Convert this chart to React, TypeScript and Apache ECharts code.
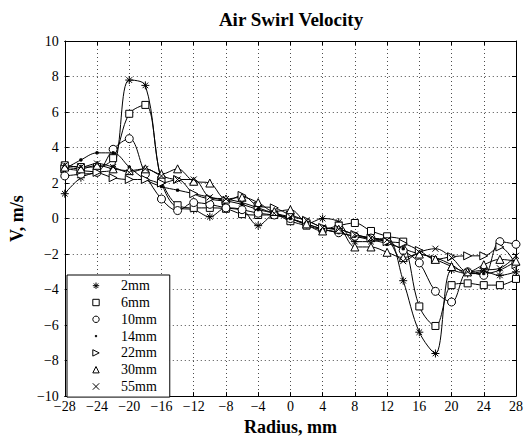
import React, { useEffect, useRef } from "react";
import * as echarts from "echarts";

const radius = [-28, -26, -24, -22, -20, -18, -16, -14, -12, -10, -8, -6, -4, -2, 0, 2, 4, 6, 8, 10, 12, 14, 16, 18, 20, 22, 24, 26, 28];

const v2mm = [1.4, 2.3, 2.6, 2.8, 7.8, 7.5, 2.1, 0.6, 0.5, 0.1, 0.6, 0.5, -0.4, 0.2, 0.0, -0.3, 0.0, -0.2, -1.3, -1.3, -1.1, -3.5, -6.4, -7.6, -2.9, -3.1, -3.0, -3.2, -3.0];
const v6mm = [3.0, 2.9, 2.9, 3.4, 5.9, 6.4, 2.2, 0.75, 0.6, 0.6, 0.55, 0.25, 0.2, 0.2, -0.15, -0.4, -0.6, -0.4, -0.25, -0.7, -1.0, -1.3, -4.95, -6.05, -3.75, -3.65, -3.75, -3.75, -3.4];
const v10mm = [2.4, 2.5, 2.6, 3.9, 4.5, 2.5, 1.1, 0.45, 0.9, 0.8, 0.6, 0.5, 0.3, 0.2, 0.0, -0.3, -0.6, -0.8, -1.0, -1.1, -1.3, -1.8, -2.5, -4.1, -4.7, -3.0, -3.2, -1.3, -1.45];
const v14mm = [2.8, 3.3, 3.7, 3.7, 2.9, 2.2, 1.8, 1.6, 1.4, 1.2, 1.0, 0.8, 0.5, 0.3, 0.0, -0.3, -0.6, -0.8, -1.0, -1.2, -1.4, -1.7, -2.0, -2.2, -2.6, -3.1, -3.1, -2.9, -2.4];
const v22mm = [2.8, 2.7, 2.6, 2.3, 2.2, 2.2, 2.0, 2.2, 1.4, 1.1, 1.0, 1.3, 0.7, 0.6, 0.2, -0.1, -0.5, -0.6, -0.9, -1.1, -1.3, -1.4, -1.8, -2.3, -2.15, -2.1, -2.1, -1.6, -2.6];
const v30mm = [2.9, 2.8, 3.0, 2.8, 2.7, 2.8, 2.5, 2.8, 2.1, 2.0, 1.1, 1.2, 0.9, 0.4, 0.5, -0.3, -0.7, -0.6, -1.6, -1.6, -1.9, -2.2, -2.0, -2.3, -2.7, -3.0, -2.6, -2.3, -2.4];
const v55mm = [3.0, 2.9, 3.1, 2.9, 2.6, 2.8, 2.4, 2.2, 2.2, 1.2, 1.1, 0.9, 0.6, 0.3, 0.1, -0.1, -0.5, -0.6, -0.9, -1.1, -1.2, -2.4, -1.9, -1.7, -2.2, -3.0, -2.9, -2.8, -2.1];

const seriesNames = ["2mm", "6mm", "10mm", "14mm", "22mm", "30mm", "55mm"];
const seriesValues = [v2mm, v6mm, v10mm, v14mm, v22mm, v30mm, v55mm];

const ASTERISK = "path://M5,0L5,10M0,5L10,5M1.5,1.5L8.5,8.5M1.5,8.5L8.5,1.5";
const CROSS = "path://M0,0L10,10M0,10L10,0";
const DOT = "path://M0,0M10,10M4,4L6,4L6,6L4,6Z";

const markerStyles = [
  { symbol: ASTERISK, size: 8, rotate: 0, fill: "#000" },
  { symbol: "rect", size: 7, rotate: 0, fill: "#fff" },
  { symbol: "circle", size: 8, rotate: 0, fill: "#fff" },
  { symbol: DOT, size: 11, rotate: 0, fill: "#000" },
  { symbol: "triangle", size: 8, rotate: -90, fill: "#fff" },
  { symbol: "triangle", size: 8, rotate: 0, fill: "#fff" },
  { symbol: CROSS, size: 6, rotate: 0, fill: "#000" },
];

const FONT = '"Liberation Serif", "Times New Roman", serif';
const fmt = (v: number) => String(v).replace("-", "\u2212");

export default function App() {
  const ref = useRef<HTMLDivElement>(null);
  useEffect(() => {
    const chart = echarts.init(ref.current!, null, { renderer: "svg" });
    const tickCommon = { show: true, inside: true, length: 4, lineStyle: { color: "#000", width: 1 } };
    const option: any = {
      animation: false,
      backgroundColor: "#fff",
      title: {
        text: "Air Swirl Velocity",
        left: 291,
        textAlign: "center",
        top: 10,
        padding: 0,
        textStyle: { fontFamily: FONT, fontSize: 19, fontWeight: "bold", color: "#000" },
      },
      grid: { left: 61, right: 5, top: 41, bottom: 38, containLabel: false },
      legend: {
        orient: "vertical",
        left: 67,
        top: 275,
        padding: [3.7, 13, 3.6, 9],
        itemGap: 2.8,
        itemWidth: 40,
        itemHeight: 8,
        backgroundColor: "#fff",
        borderColor: "#000",
        borderWidth: 1,
        borderRadius: 0,
        data: seriesNames,
        itemStyle: { borderWidth: 1 },
        lineStyle: { width: 0, opacity: 0 },
        textStyle: { fontFamily: FONT, fontSize: 14, color: "#000" },
      },
      xAxis: [
        {
          type: "value",
          min: -28,
          max: 28,
          interval: 4,
          axisLine: { onZero: false, lineStyle: { color: "#000", width: 1 } },
          axisTick: tickCommon,
          axisLabel: { formatter: fmt, color: "#000", fontFamily: FONT, fontSize: 14, margin: 3 },
          splitLine: { show: true, lineStyle: { color: "#000", type: [1, 3], width: 1, opacity: 0.7 } },
          name: "Radius, mm",
          nameLocation: "middle",
          nameGap: 21,
          nameTextStyle: { fontFamily: FONT, fontSize: 18, fontWeight: "bold", color: "#000" },
        },
        {
          type: "value",
          position: "top",
          min: -28,
          max: 28,
          interval: 4,
          axisLine: { onZero: false, lineStyle: { color: "#000", width: 1 } },
          axisTick: tickCommon,
          axisLabel: { show: false },
          splitLine: { show: false },
        },
      ],
      yAxis: [
        {
          type: "value",
          min: -10,
          max: 10,
          interval: 2,
          axisLine: { onZero: false, lineStyle: { color: "#000", width: 1 } },
          axisTick: tickCommon,
          axisLabel: { formatter: fmt, color: "#000", fontFamily: FONT, fontSize: 14, margin: 6 },
          splitLine: { show: true, lineStyle: { color: "#000", type: [1, 3], width: 1, opacity: 0.7 } },
          name: "V, m/s",
          nameLocation: "middle",
          nameGap: 34,
          nameTextStyle: { fontFamily: FONT, fontSize: 18, fontWeight: "bold", color: "#000" },
        },
        {
          type: "value",
          position: "right",
          min: -10,
          max: 10,
          interval: 2,
          axisLine: { onZero: false, lineStyle: { color: "#000", width: 1 } },
          axisTick: tickCommon,
          axisLabel: { show: false },
          splitLine: { show: false },
        },
      ],
      series: seriesNames.map((name, i) => ({
        name,
        type: "line",
        xAxisIndex: 0,
        yAxisIndex: 0,
        data: radius.map((r, j) => [r, seriesValues[i][j]]),
        smooth: 0.35,
        symbol: markerStyles[i].symbol,
        symbolSize: markerStyles[i].size,
        symbolRotate: markerStyles[i].rotate,
        showAllSymbol: true,
        lineStyle: { color: "#000", width: 1 },
        itemStyle: { color: markerStyles[i].fill, borderColor: "#000", borderWidth: 1 },
        emphasis: { disabled: true },
      })),
    };
    chart.setOption(option);
    return () => chart.dispose();
  }, []);
  return <div ref={ref} style={{ position: "absolute", left: 0, top: 0, width: 526, height: 441 }} />;
}
